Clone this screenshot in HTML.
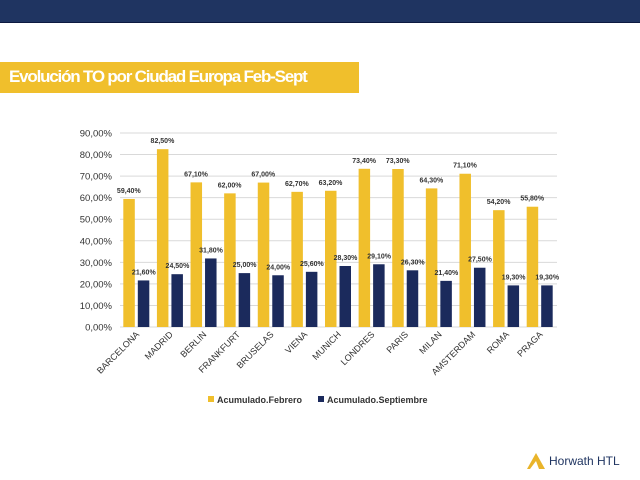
<!DOCTYPE html>
<html><head><meta charset="utf-8"><style>
body{margin:0;width:640px;height:480px;background:#fff;overflow:hidden;font-family:"Liberation Sans",sans-serif;position:relative}
</style></head><body>
<div style="position:absolute;left:0;top:0;width:640px;height:22px;background:#1f3461;border-bottom:1px solid #0c1a40"></div>
<div style="position:absolute;left:0;top:62px;width:359px;height:31px;background:#f0bf2c"></div>
<div style="position:absolute;left:9px;top:67px;color:#fff;font-weight:bold;font-size:17px;letter-spacing:-1.2px">Evolución TO por Ciudad Europa Feb-Sept</div>
<svg id="chart" width="640" height="480" style="position:absolute;left:0;top:0"></svg>
<div style="position:absolute;left:526px;top:452px;height:18px;display:flex;align-items:center">
<svg width="20" height="18"><polygon points="10,1 19,17 13,17 10,9 4,17 1,17" fill="#e9b42a"/></svg>
<span style="color:#1f3461;font-size:12px;margin-left:3px">Horwath HTL</span></div>
<script>
const categories=["BARCELONA","MADRID","BERLIN","FRANKFURT","BRUSELAS","VIENA","MUNICH","LONDRES","PARIS","MILAN","AMSTERDAM","ROMA","PRAGA"];
const febrero=[59.4,82.5,67.1,62.0,67.0,62.7,63.2,73.4,73.3,64.3,71.1,54.2,55.8];
const septiembre=[21.6,24.5,31.8,25.0,24.0,25.6,28.3,29.1,26.3,21.4,27.5,19.3,19.3];
const ticks=[0,10,20,30,40,50,60,70,80,90];
const svg=document.getElementById('chart');const NS='http://www.w3.org/2000/svg';
const L=120,R=557,T=133,B=327,max=90;
const y=v=>B-(v/max)*(B-T);const bw=(R-L)/categories.length;
const fmt=v=>v.toFixed(2).replace('.',',')+'%';
function mk(t,a,txt){const e=document.createElementNS(NS,t);for(const k in a)e.setAttribute(k,a[k]);if(txt!=null)e.textContent=txt;svg.appendChild(e);return e;}
ticks.forEach(t=>{const g=mk('line',{x1:L,x2:R,y1:y(t),y2:y(t),stroke:'#d9d9d9','stroke-width':1});


const l=mk('text',{x:L-8,y:y(t)+3.5,'text-anchor':'end','font-size':9.5,fill:'#333'},fmt(t));

});
categories.forEach((c,i)=>{const cx=L+bw*(i+0.5);
const a=mk('rect',{x:cx-13.5,y:y(febrero[i]),width:11.5,height:B-y(febrero[i]),fill:'#f0bf2c'});


const b=mk('rect',{x:cx+1,y:y(septiembre[i]),width:11.5,height:B-y(septiembre[i]),fill:'#1b2a5c'});


const la=mk('text',{x:cx-8,y:y(febrero[i])-6,'text-anchor':'middle','font-size':7,'font-weight':'bold',fill:'#333'},fmt(febrero[i]));


const lb=mk('text',{x:cx+7,y:y(septiembre[i])-6,'text-anchor':'middle','font-size':7,'font-weight':'bold',fill:'#333'},fmt(septiembre[i]));


const cl=mk('text',{x:cx+3,y:B+8,'text-anchor':'end','font-size':9,fill:'#333',transform:`rotate(-45 ${cx+3} ${B+8})`},c);

});
const lg=[['Acumulado.Febrero','#f0bf2c',208],['Acumulado.Septiembre','#1b2a5c',318]];
lg.forEach(([n,c,x])=>{const r=mk('rect',{x:x,y:396,width:6,height:6,fill:c});


const t=mk('text',{x:x+9,y:403,'font-size':9,'font-weight':'bold',fill:'#333'},n);

});
</script>
</body></html>
